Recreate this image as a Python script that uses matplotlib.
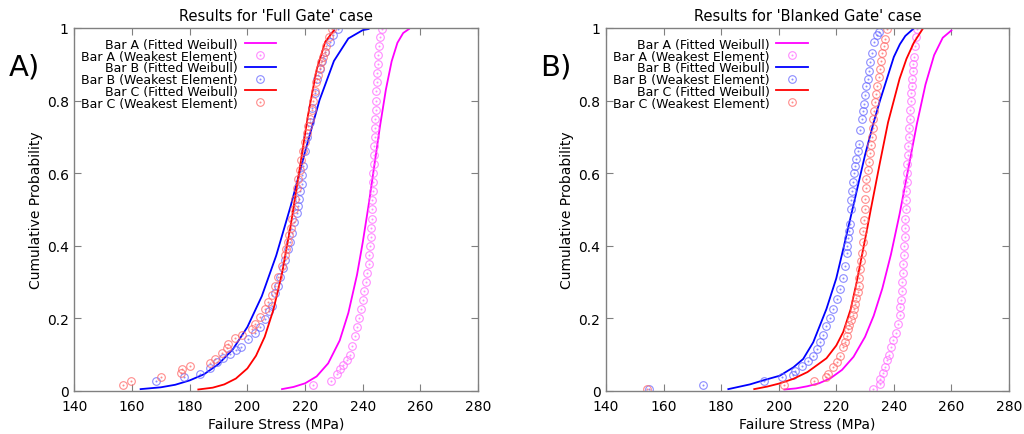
import numpy as np
import matplotlib
matplotlib.use("Agg")
import matplotlib.pyplot as plt
from matplotlib.path import Path

# ---- data (stress in MPa, cumulative probability) ----
# Full Gate case
full_a_fit_x = [212, 216, 220, 224, 228, 232, 235, 238, 240, 242, 244, 246, 248, 250, 252, 254, 256]
full_a_fit_y = [0.005, 0.011, 0.021, 0.040, 0.076, 0.139, 0.215, 0.320, 0.410, 0.511, 0.621, 0.731, 0.830, 0.908, 0.959, 0.986, 0.997]
full_b_fit_x = [163, 170, 175, 180, 185, 190, 195, 200, 205, 210, 215, 220, 225, 230, 235, 240, 242]
full_b_fit_y = [0.005, 0.010, 0.017, 0.029, 0.046, 0.074, 0.115, 0.176, 0.261, 0.373, 0.509, 0.659, 0.801, 0.909, 0.971, 0.994, 0.997]
full_c_fit_x = [183, 188, 192, 196, 200, 203, 206, 209, 212, 215, 218, 221, 224, 227, 230]
full_c_fit_y = [0.004, 0.009, 0.018, 0.034, 0.062, 0.097, 0.149, 0.223, 0.324, 0.455, 0.606, 0.759, 0.885, 0.962, 0.993]

full_a_pts_x = [222.6, 228.9, 230.9, 232.2, 233.2, 234.5, 235.5, 236.4, 237.3, 238.0, 238.7, 239.3, 239.9, 240.5,
                241.1, 241.6, 242.0, 242.3, 242.6, 242.8, 243.0, 243.1, 243.2, 243.3, 243.4, 243.5, 243.6, 243.75,
                243.9, 244.05, 244.2, 244.3, 244.4, 244.5, 244.6, 244.75, 244.9, 245.0, 245.1, 245.3, 245.6, 245.9, 246.5]
full_a_pts_y = [0.017, 0.027, 0.047, 0.060, 0.072, 0.085, 0.100, 0.125, 0.150, 0.175, 0.200, 0.225, 0.250, 0.275,
                0.300, 0.325, 0.350, 0.375, 0.400, 0.425, 0.450, 0.475, 0.500, 0.525, 0.550, 0.575, 0.600, 0.625,
                0.650, 0.675, 0.700, 0.725, 0.750, 0.775, 0.800, 0.825, 0.850, 0.875, 0.900, 0.925, 0.950, 0.975, 0.997]
full_b_pts_x = [168.3, 178.0, 183.6, 187.0, 189.5, 191.5, 194.0, 196.0, 197.8, 200.3, 202.5, 204.3, 206.1, 207.5,
                208.4, 209.5, 210.5, 211.3, 212.2, 213.0, 214.0, 214.7, 215.3, 216.2, 217.1, 217.6, 218.0, 218.4,
                218.8, 219.1, 219.4, 220.0, 220.8, 221.6, 222.5, 223.5, 224.3, 225.1, 226.0, 227.0, 228.6, 229.8, 231.5]
full_b_pts_y = [0.027, 0.038, 0.048, 0.062, 0.080, 0.090, 0.103, 0.112, 0.122, 0.143, 0.160, 0.175, 0.198, 0.220,
                0.235, 0.270, 0.290, 0.315, 0.340, 0.360, 0.390, 0.410, 0.435, 0.465, 0.490, 0.510, 0.530, 0.550,
                0.570, 0.595, 0.620, 0.660, 0.700, 0.740, 0.780, 0.820, 0.860, 0.887, 0.910, 0.935, 0.960, 0.980, 0.998]
full_c_pts_x = [157.0, 159.5, 170.0, 177.0, 177.2, 180.1, 187.0, 188.8, 191.1, 192.8, 193.4, 195.7, 198.0, 201.5,
                202.6, 204.3, 206.1, 207.2, 208.4, 209.5, 210.7, 211.9, 213.0, 213.5, 214.0, 214.5, 215.0, 215.5,
                216.0, 216.5, 217.1, 217.6, 218.2, 218.7, 219.3, 219.9, 220.5, 221.1, 221.7, 222.3, 222.8, 223.3,
                223.8, 224.4, 225.1, 225.6, 226.2, 226.8, 227.3, 228.3, 229.2]
full_c_pts_y = [0.015, 0.027, 0.038, 0.050, 0.060, 0.068, 0.078, 0.088, 0.105, 0.118, 0.130, 0.145, 0.155, 0.170,
                0.185, 0.205, 0.225, 0.245, 0.265, 0.290, 0.315, 0.345, 0.375, 0.390, 0.410, 0.430, 0.450, 0.475,
                0.500, 0.530, 0.560, 0.585, 0.610, 0.635, 0.660, 0.685, 0.710, 0.730, 0.750, 0.775, 0.800, 0.825,
                0.850, 0.870, 0.890, 0.905, 0.920, 0.935, 0.950, 0.975, 0.998]

# Blanked Gate case
blank_a_fit_x = [202, 206, 210, 214, 218, 222, 226, 230, 233, 236, 239, 242, 245, 248, 251, 254, 257, 260]
blank_a_fit_y = [0.004, 0.007, 0.013, 0.021, 0.035, 0.058, 0.094, 0.149, 0.207, 0.282, 0.376, 0.487, 0.611, 0.735, 0.844, 0.925, 0.973, 0.993]
blank_b_fit_x = [182.5, 190, 195, 200.4, 205.1, 208.5, 212, 216.6, 220, 222.4, 226.5, 230, 233, 235.2, 238, 240, 242.1, 244, 246.7]
blank_b_fit_y = [0.005, 0.018, 0.030, 0.042, 0.065, 0.088, 0.134, 0.226, 0.310, 0.390, 0.530, 0.650, 0.740, 0.800, 0.870, 0.920, 0.955, 0.978, 0.997]
blank_c_fit_x = [191.5, 196, 200, 205, 210, 214, 216.6, 220, 222.4, 225, 227.1, 230.5, 232, 235.2, 238, 240, 242, 244.4, 247, 250]
blank_c_fit_y = [0.005, 0.012, 0.020, 0.033, 0.052, 0.075, 0.090, 0.125, 0.162, 0.225, 0.300, 0.437, 0.500, 0.630, 0.740, 0.800, 0.860, 0.915, 0.960, 0.997]

blank_a_pts_x = [232.8, 235.2, 235.3, 236.3, 236.8, 237.5, 238.3, 239.0, 239.8, 240.6, 241.3, 242.0, 242.3, 242.5,
                 242.7, 242.9, 243.1, 243.3, 243.45, 243.6, 243.75, 243.9, 244.0, 244.1, 244.25, 244.4, 244.5,
                 244.6, 244.75, 244.9, 245.05, 245.2, 245.35, 245.5, 245.65, 245.8, 246.0, 246.2, 246.4, 246.6,
                 246.8, 247.0, 247.3, 247.6, 247.9]
blank_a_pts_y = [0.005, 0.020, 0.033, 0.050, 0.065, 0.085, 0.100, 0.120, 0.140, 0.160, 0.185, 0.210, 0.230, 0.250,
                 0.275, 0.300, 0.325, 0.350, 0.375, 0.400, 0.425, 0.450, 0.475, 0.500, 0.525, 0.550, 0.575,
                 0.600, 0.625, 0.650, 0.675, 0.700, 0.725, 0.750, 0.775, 0.800, 0.820, 0.840, 0.860, 0.880,
                 0.900, 0.920, 0.950, 0.975, 0.997]
blank_b_pts_x = [155.0, 173.7, 195.0, 201.1, 204.8, 205.6, 208.0, 210.3, 212.0, 213.2, 214.3, 215.5, 216.6, 217.8,
                 218.9, 220.1, 221.2, 222.4, 223.0, 223.6, 223.9, 224.2, 224.5, 224.7, 225.0, 225.2, 225.4, 225.8,
                 226.2, 226.6, 227.0, 227.4, 227.8, 228.3, 228.8, 229.2, 229.5, 230.0, 230.5, 230.9, 231.3, 231.8,
                 232.3, 233.2, 234.0, 234.7]
blank_b_pts_y = [0.005, 0.017, 0.028, 0.038, 0.045, 0.056, 0.070, 0.083, 0.097, 0.115, 0.135, 0.155, 0.178, 0.200,
                 0.225, 0.252, 0.280, 0.310, 0.345, 0.380, 0.400, 0.420, 0.440, 0.460, 0.500, 0.525, 0.550, 0.575,
                 0.600, 0.620, 0.640, 0.660, 0.680, 0.720, 0.750, 0.770, 0.790, 0.815, 0.840, 0.860, 0.880, 0.905,
                 0.930, 0.960, 0.980, 0.990]
blank_c_pts_x = [154.2, 201.7, 212.3, 216.6, 217.2, 218.9, 220.1, 221.2, 222.4, 223.0, 223.6, 224.1, 224.6, 225.2,
                 225.8, 226.3, 226.6, 227.0, 227.4, 227.8, 228.0, 228.3, 228.6, 228.9, 229.2, 229.4, 229.6, 229.9,
                 230.0, 230.2, 230.5, 230.9, 231.3, 231.7, 232.0, 232.3, 232.6, 232.9, 233.1, 233.4, 233.8, 234.2,
                 234.7, 235.2, 235.6, 236.0, 236.5, 236.9, 237.7]
blank_c_pts_y = [0.005, 0.017, 0.028, 0.038, 0.048, 0.065, 0.080, 0.097, 0.120, 0.135, 0.150, 0.170, 0.182, 0.195,
                 0.210, 0.225, 0.240, 0.255, 0.272, 0.290, 0.312, 0.335, 0.357, 0.380, 0.410, 0.440, 0.470, 0.500,
                 0.530, 0.560, 0.585, 0.610, 0.632, 0.655, 0.678, 0.700, 0.725, 0.750, 0.772, 0.795, 0.818, 0.840,
                 0.865, 0.887, 0.910, 0.930, 0.950, 0.970, 0.997]

labels = ["Bar A (Fitted Weibull)", "Bar A (Weakest Element)",
          "Bar B (Fitted Weibull)", "Bar B (Weakest Element)",
          "Bar C (Fitted Weibull)", "Bar C (Weakest Element)"]
colors = ["#ff00ff", "#0000ff", "#ff0000"]
point_colors = ["#ff66ff", "#6666ff", "#ff6666"]

# ring with a dot in the middle, like gnuplot point type 6
ring = Path.make_compound_path(Path.unit_circle(), Path.circle((0, 0), 0.12))

plt.rcParams["font.family"] = "DejaVu Sans"


def draw_panel(ax, fits, pts, title):
    handles = []
    for i in range(3):
        line, = ax.plot(fits[i][0], fits[i][1], "-", color=colors[i], lw=1.3)
        dots, = ax.plot(pts[i][0], pts[i][1], ls="none", marker=ring, ms=5.5, mfc="none",
                        mec=point_colors[i], mew=0.8, alpha=0.75)
        handles += [line, dots]
    ax.set_xlim(140, 280)
    ax.set_ylim(0, 1)
    ax.set_xticks(range(140, 281, 20))
    ax.set_yticks([0, 0.2, 0.4, 0.6, 0.8, 1])
    ax.set_yticklabels(["0", "0.2", "0.4", "0.6", "0.8", "1"])
    ax.tick_params(direction="in", length=5, color="#808080", labelsize=10,
                   top=True, right=True)
    ax.tick_params(axis="x", pad=6)
    ax.tick_params(axis="y", pad=4)
    for s in ax.spines.values():
        s.set_color("#808080")
        s.set_linewidth(1.0)
    ax.set_xlabel("Failure Stress (MPa)", fontsize=10, labelpad=2)
    ax.set_title(title, fontsize=10.5, pad=6)
    # markerfirst=False right-aligns the rows, text on the left and sample on the right
    ax.legend(handles, labels, loc="upper left", bbox_to_anchor=(-0.005, 0.997), frameon=False,
              markerfirst=False, fontsize=9, handlelength=2.5, handletextpad=0.55,
              labelspacing=-0.1, borderpad=0.2, numpoints=1)
    return ax


fig = plt.figure(figsize=(10.24, 4.35), dpi=100)
ax1 = fig.add_axes([0.0725, 0.099, 0.3945, 0.8345])
ax2 = fig.add_axes([0.5918, 0.099, 0.3935, 0.8345])

draw_panel(ax1,
           [(full_a_fit_x, full_a_fit_y), (full_b_fit_x, full_b_fit_y), (full_c_fit_x, full_c_fit_y)],
           [(full_a_pts_x, full_a_pts_y), (full_b_pts_x, full_b_pts_y), (full_c_pts_x, full_c_pts_y)],
           "Results for 'Full Gate' case")
draw_panel(ax2,
           [(blank_a_fit_x, blank_a_fit_y), (blank_b_fit_x, blank_b_fit_y), (blank_c_fit_x, blank_c_fit_y)],
           [(blank_a_pts_x, blank_a_pts_y), (blank_b_pts_x, blank_b_pts_y), (blank_c_pts_x, blank_c_pts_y)],
           "Results for 'Blanked Gate' case")
ax1.set_ylabel("Cumulative Probability", fontsize=10, labelpad=3)
ax2.set_ylabel("Cumulative Probability", fontsize=10, labelpad=3)

fig.text(0.009, 0.845, "A)", fontsize=21, va="center", ha="left")
fig.text(0.527, 0.845, "B)", fontsize=21, va="center", ha="left")

fig.savefig("out.png", dpi=100)
